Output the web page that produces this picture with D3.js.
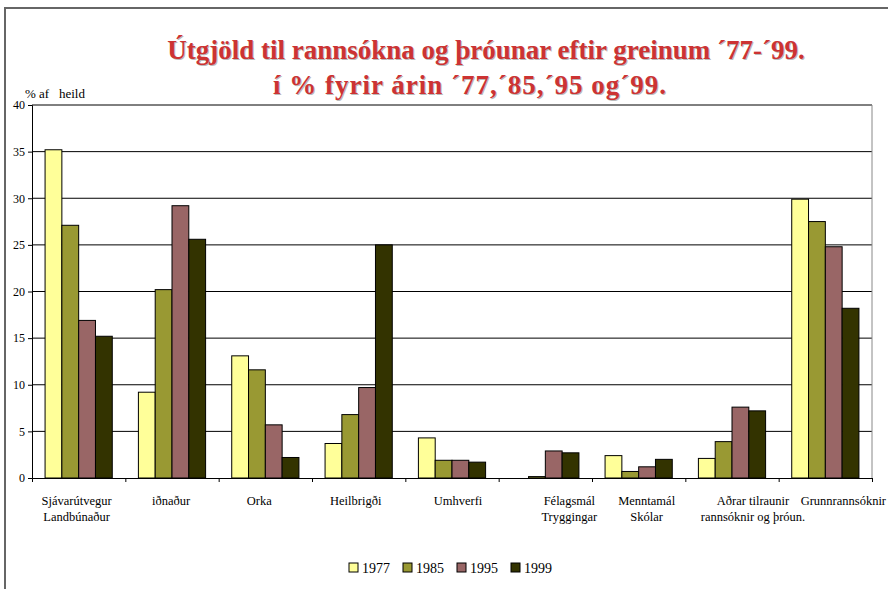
<!DOCTYPE html>
<html>
<head>
<meta charset="utf-8">
<script src="https://cdn.jsdelivr.net/npm/d3@7"></script>
<style>
  body { margin: 0; background: #fff; }
</style>
</head>
<body>
<svg width="888" height="589"></svg>
<script>
// flokkar (hver lína merkis sér)
const categories = [
    ['Sjávarútvegur', 'Landbúnaður'],
    ['iðnaður'],
    ['Orka'],
    ['Heilbrigði'],
    ['Umhverfi'],
    ['Félagsmál', 'Tryggingar'],
    ['Menntamál', 'Skólar'],
    ['Aðrar tilraunir', 'rannsóknir og þróun.'],
    ['Grunnrannsóknir']
];
const years = ['1977', '1985', '1995', '1999'];
const v1977 = [35.2, 9.2, 13.1, 3.7, 4.3, 0, 2.4, 2.1, 29.9];
const v1985 = [27.1, 20.2, 11.6, 6.8, 1.9, 0.15, 0.7, 3.9, 27.5];
const v1995 = [16.9, 29.2, 5.7, 9.7, 1.9, 2.9, 1.2, 7.6, 24.8];
const v1999 = [15.2, 25.6, 2.2, 25.0, 1.7, 2.7, 2.0, 7.2, 18.2];
const yTicks = [0, 5, 10, 15, 20, 25, 30, 35, 40];

const colors = ['#FFFF99', '#999933', '#996666', '#333300'];
const series = [v1977, v1985, v1995, v1999];
const serif = 'Liberation Serif';

const svg = d3.select('svg');
const margin = { left: 32, right: 16, top: 105, bottom: 111 };
const W = 888, H = 589;
const innerW = W - margin.left - margin.right;
const innerH = H - margin.top - margin.bottom;

// ytri rammi
svg.append('rect')
    .attr('x', 5).attr('y', 8)
    .attr('width', 900).attr('height', 600)
    .attr('fill', 'none')
    .attr('stroke', '#666')
    .attr('stroke-width', 2);

// titill
const title = svg.append('text')
    .attr('text-anchor', 'middle')
    .attr('font-family', serif)
    .attr('font-size', 27)
    .attr('font-weight', 'bold')
    .attr('fill', '#CC3333')
    .style('text-shadow', '1px 1px 0 #bbb');
title.append('tspan').attr('x', 486).attr('y', 59)
    .text('Útgjöld til rannsókna og þróunar eftir greinum ´77-´99.');
title.append('tspan').attr('x', 470).attr('y', 94)
    .attr('letter-spacing', 1)
    .text('í % fyrir árin ´77,´85,´95 og´99.');

const g = svg.append('g').attr('transform', `translate(${margin.left},${margin.top})`);

const x0 = d3.scaleBand()
    .domain(d3.range(categories.length))
    .range([0, innerW])
    .paddingInner(0.28)
    .paddingOuter(0.14);
const x1 = d3.scaleBand()
    .domain(d3.range(years.length))
    .range([0, x0.bandwidth()]);
const y = d3.scaleLinear().domain([0, 40]).range([innerH, 0]);

// hnitalínur
g.selectAll('.grid')
    .data(yTicks.filter(t => t > 0))
    .enter().append('line')
    .attr('x1', 0).attr('x2', innerW)
    .attr('y1', d => y(d)).attr('y2', d => y(d))
    .attr('stroke', '#000')
    .attr('stroke-width', 1);

// hægri rammi teiknisvæðis
g.append('line')
    .attr('x1', innerW).attr('x2', innerW)
    .attr('y1', 0).attr('y2', innerH)
    .attr('stroke', '#888');

// súlur
const groups = g.selectAll('.cat')
    .data(categories.map((c, i) => i))
    .enter().append('g')
    .attr('transform', i => `translate(${x0(i)},0)`);

groups.selectAll('rect')
    .data(i => series.map((s, k) => ({ k, v: s[i] })))
    .enter().append('rect')
    .filter(d => d.v > 0)
    .attr('x', d => x1(d.k))
    .attr('y', d => y(d.v))
    .attr('width', x1.bandwidth())
    .attr('height', d => innerH - y(d.v))
    .attr('fill', d => colors[d.k])
    .attr('stroke', '#000')
    .attr('stroke-width', 1);

// y-ás
const yAxis = g.append('g')
    .call(d3.axisLeft(y).tickValues(yTicks).tickSize(4).tickPadding(3))
    .attr('font-family', serif)
    .attr('font-size', 12);
yAxis.select('.domain').attr('stroke', '#000');
yAxis.selectAll('text').attr('fill', '#000');

// x-ás með merkingum á flokkaskilum
const xb = d3.scaleLinear().domain([0, categories.length]).range([0, innerW]);
const xAxis = g.append('g')
    .attr('transform', `translate(0,${innerH})`)
    .call(d3.axisBottom(xb).tickValues(d3.range(1, categories.length + 1)).tickSize(4).tickFormat(''));
xAxis.select('.domain').attr('stroke', '#000');

// flokkaheiti
const labelShift = [-2, -1, -6, -3, 6, 24, 8, 21, 18];
const lab = g.selectAll('.lab')
    .data(categories.map((c, i) => i))
    .enter().append('text')
    .attr('text-anchor', 'middle')
    .attr('font-family', serif)
    .attr('font-size', 12.5)
    .attr('fill', '#000');
lab.each(function(i) {
    const t = d3.select(this);
    categories[i].forEach((line, j) => {
        t.append('tspan')
            .attr('x', x0(i) + x0.bandwidth() / 2 + labelShift[i])
            .attr('y', innerH + 27 + j * 16)
            .text(line);
    });
});

// y-ás titill
svg.append('text')
    .attr('x', 25).attr('y', 98)
    .attr('font-family', serif)
    .attr('font-size', 13)
    .style('white-space', 'pre')
    .text('% af   heild');

// skýringar
const legend = svg.append('g').attr('transform', 'translate(349,563)');
const items = legend.selectAll('g')
    .data(years)
    .enter().append('g')
    .attr('transform', (d, i) => `translate(${i * 54},0)`);
items.append('rect')
    .attr('width', 9).attr('height', 9)
    .attr('fill', (d, i) => colors[i])
    .attr('stroke', '#000');
items.append('text')
    .attr('x', 13).attr('y', 9.5)
    .attr('font-family', serif)
    .attr('font-size', 14)
    .text(d => d);
</script>
</body>
</html>
